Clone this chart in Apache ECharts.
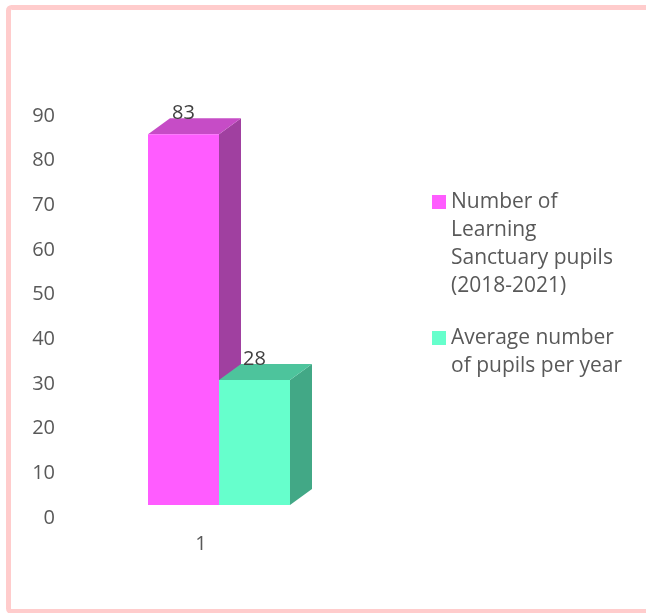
<!DOCTYPE html>
<html>
<head>
<meta charset="utf-8">
<script src="https://cdn.jsdelivr.net/npm/echarts@6/dist/echarts.min.js"></script>
<style>
html,body{margin:0;padding:0;background:#fff;}
#chart{width:646px;height:613px;}
</style>
</head>
<body>
<div id="chart"></div>
<script>
const categories = ['1'];
const pupilsTotal = [83];
const pupilsAverage = [28];
const seriesNames = ['Number of Learning Sanctuary pupils (2018-2021)', 'Average number of pupils per year'];
const legendLines = [
  ['Number of', 'Learning', 'Sanctuary pupils', '(2018-2021)'],
  ['Average number', 'of pupils per year']
];
const yTicks = { min: 0, max: 90, interval: 10 };

const FONT = 'Open Sans';
const W = 71, DX = 22, DY = 16, LIFT = 13;

function make3D(offsetX, cFront, cTop, cSide) {
  return function (params, api) {
    const base = api.coord([api.value(0), 0]);
    const top = api.coord([api.value(0), api.value(1)]);
    const x0 = base[0] + offsetX;
    const yb = base[1] - LIFT;
    const yt = top[1] - LIFT;
    return {
      type: 'group',
      children: [
        { type: 'polygon', shape: { points: [[x0 + W, yt], [x0 + W + DX, yt - DY], [x0 + W + DX, yb - DY], [x0 + W, yb]] }, style: { fill: cSide } },
        { type: 'polygon', shape: { points: [[x0, yt], [x0 + DX, yt - DY], [x0 + W + DX, yt - DY], [x0 + W, yt]] }, style: { fill: cTop } },
        { type: 'rect', shape: { x: x0, y: yt, width: W, height: yb - yt }, style: { fill: cFront } },
        { type: 'text', style: { text: String(api.value(1)), x: x0 + W / 2, y: yt - 21, align: 'center', verticalAlign: 'middle', fill: '#404040', font: '20px "' + FONT + '"' } }
      ]
    };
  };
}

// Put the icon level with the first text line: pad with empty lines above
function legendText(lines) {
  const pad = new Array(lines.length - 1).fill('');
  return pad.concat(lines).join('\n');
}

const chart = echarts.init(document.getElementById('chart'));
chart.setOption({
  backgroundColor: '#ffffff',
  animation: false,
  textStyle: { fontFamily: FONT },
  graphic: [{
    type: 'rect', z: 100, silent: true,
    shape: { x: 8.5, y: 7.5, width: 660, height: 604, r: 3 },
    style: { fill: 'none', stroke: '#FFCCCC', lineWidth: 5 }
  }],
  grid: { left: 70, right: 314, top: 116, bottom: 95 },
  xAxis: {
    type: 'category', data: categories,
    axisLine: { show: false }, axisTick: { show: false }, splitLine: { show: false },
    axisLabel: { color: '#595959', fontSize: 20, fontFamily: FONT, margin: 16 }
  },
  yAxis: {
    type: 'value', min: yTicks.min, max: yTicks.max, interval: yTicks.interval,
    axisLine: { show: false }, axisTick: { show: false }, splitLine: { show: false },
    axisLabel: { color: '#595959', fontSize: 20, fontFamily: FONT, margin: 15 }
  },
  legend: [{
    data: [seriesNames[0]],
    left: 432, top: 104, padding: 0, orient: 'vertical',
    itemWidth: 14, itemHeight: 14, icon: 'rect',
    formatter: function () { return legendText(legendLines[0]); },
    textStyle: { color: '#595959', fontSize: 21, lineHeight: 28, fontFamily: FONT }
  }, {
    data: [seriesNames[1]],
    left: 432, top: 296, padding: 0, orient: 'vertical',
    itemWidth: 14, itemHeight: 14, icon: 'rect',
    formatter: function () { return legendText(legendLines[1]); },
    textStyle: { color: '#595959', fontSize: 21, lineHeight: 28, fontFamily: FONT }
  }],
  series: [{
    name: seriesNames[0], type: 'custom',
    itemStyle: { color: '#FF5CFF' },
    renderItem: make3D(-53, '#FF5CFF', '#C64CC6', '#A040A0'),
    encode: { x: 0, y: 1 },
    data: categories.map((c, i) => [i, pupilsTotal[i]])
  }, {
    name: seriesNames[1], type: 'custom',
    itemStyle: { color: '#66FFCC' },
    renderItem: make3D(18, '#66FFCC', '#4DC49C', '#42A886'),
    encode: { x: 0, y: 1 },
    data: categories.map((c, i) => [i, pupilsAverage[i]])
  }]
});
</script>
</body>
</html>
